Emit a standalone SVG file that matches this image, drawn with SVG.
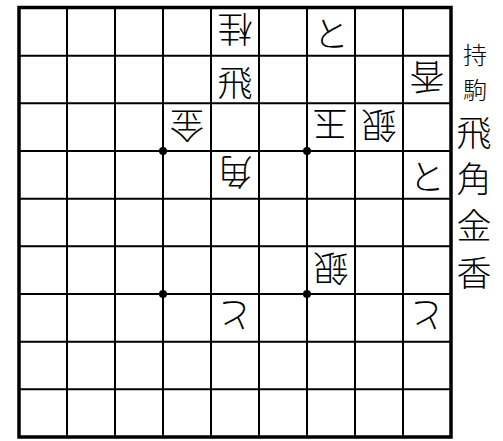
<svg xmlns="http://www.w3.org/2000/svg" width="503" height="441" viewBox="0 0 503 441">
<style>
.grid{stroke:#000;stroke-width:2;fill:none}
.border{stroke:#000;stroke-width:3.5;fill:none}
.pc{font-family:"Noto Sans CJK JP","Noto Sans CJK SC",sans-serif;font-size:35px;font-weight:300;text-anchor:middle;dominant-baseline:central;fill:#000}
.hand{font-family:"Noto Sans CJK JP","Noto Sans CJK SC",sans-serif;font-weight:300;text-anchor:middle;dominant-baseline:central;fill:#000}
</style>
<rect width="503" height="441" fill="#fff"/>
<g id="board">
<path class="grid" d="M67 8V437M115 8V437M163 8V437M211 8V437M259 8V437M307 8V437M355 8V437M403 8V437M19 55.7H451M19 103.3H451M19 151H451M19 198.7H451M19 246.3H451M19 294H451M19 341.7H451M19 389.3H451"/>
<rect class="border" x="19" y="7.5" width="432" height="429.5"/>
<circle cx="163" cy="151" r="4"/>
<circle cx="307" cy="151" r="4"/>
<circle cx="163" cy="294" r="4"/>
<circle cx="307" cy="294" r="4"/>
</g>
<g id="p-keima-gote"><text class="pc" x="235" y="31.8" transform="rotate(180 235 31.8)">桂</text></g>
<g id="p-to-sente-1"><text class="pc" x="331" y="31.8">と</text></g>
<g id="p-hisha-sente"><text class="pc" x="235" y="80">飛</text></g>
<g id="p-kyo-gote"><text class="pc" x="427" y="79.5" transform="rotate(180 427 79.5)">香</text></g>
<g id="p-kin-gote"><text class="pc" x="187" y="127.2" transform="rotate(180 187 127.2)">金</text></g>
<g id="p-gyoku-gote"><text class="pc" x="330" y="126" transform="rotate(180 330 126)">玉</text></g>
<g id="p-gin-gote-1"><text class="pc" x="379" y="127.2" transform="rotate(180 379 127.2)">銀</text></g>
<g id="p-kaku-gote"><text class="pc" x="235" y="174.8" transform="rotate(180 235 174.8)">角</text></g>
<g id="p-to-sente-2"><text class="pc" x="427" y="174.8">と</text></g>
<g id="p-gin-gote-2"><text class="pc" x="331" y="270.2" transform="rotate(180 331 270.2)">銀</text></g>
<g id="p-to-gote-1"><text class="pc" x="235" y="317.8" transform="rotate(180 235 317.8)">と</text></g>
<g id="p-to-gote-2"><text class="pc" x="427" y="317.8" transform="rotate(180 427 317.8)">と</text></g>
<g id="hand">
<text class="hand" x="475" y="53" font-size="24">持</text>
<text class="hand" x="475" y="88" font-size="24">駒</text>
<text class="hand" x="474" y="130" font-size="35">飛</text>
<text class="hand" x="474" y="176" font-size="35">角</text>
<text class="hand" x="474" y="223" font-size="35">金</text>
<text class="hand" x="474" y="270" font-size="35">香</text>
</g>
</svg>
